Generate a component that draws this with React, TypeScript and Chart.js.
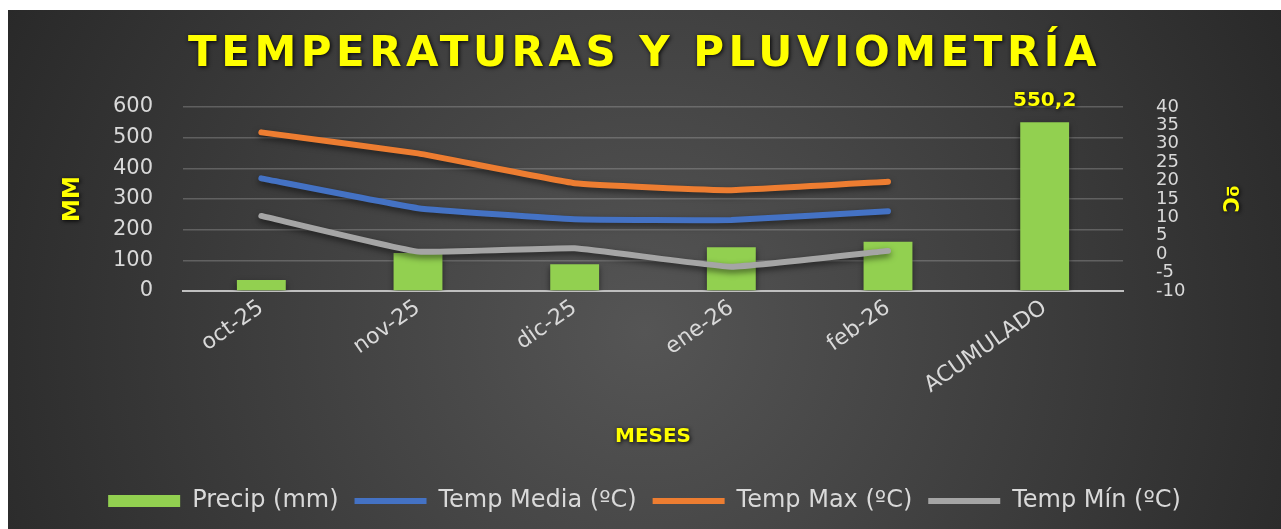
import { useEffect, useRef } from 'react';
import { Chart, registerables } from 'chart.js';

Chart.register(...registerables);

const categories = ['oct-25', 'nov-25', 'dic-25', 'ene-26', 'feb-26', 'ACUMULADO'];
const precipMm = [36, 124, 87, 142.5, 160.7, 550.2];
const tempMedia = [20.6, 12.5, 9.5, 9.3, 11.7, null];
const tempMax = [33.1, 27.4, 19.3, 17.4, 19.7, null];
const tempMin = [10.4, 0.7, 1.6, -3.4, 0.9, null];
const mmAxis = { min: 0, max: 600, step: 100 };
const cAxis = { min: -10, max: 40, step: 5 };
const labeledBarIndex = 5;

const FONT = 'DejaVu Sans';
const YELLOW = '#ffff00';
const TICK = '#d9d9d9';

const bgPlugin = {
  id: 'bgGradient',
  beforeDraw(chart: any) {
    const { ctx, width, height } = chart;
    const cx = width * 0.5;
    const cy = height * 0.62;
    const g = ctx.createRadialGradient(cx, cy, 0, cx, cy, width * 0.6);
    g.addColorStop(0, '#555555');
    g.addColorStop(1, '#262626');
    ctx.save();
    ctx.fillStyle = g;
    ctx.fillRect(0, 0, width, height);
    ctx.restore();
  },
};

const textShadowPlugin = {
  id: 'textShadow',
  beforeDraw(chart: any) {
    const wrap = (obj: any, key: string, spacing?: string) => {
      if (!obj || obj['__w_' + key]) return;
      const orig = obj[key];
      obj[key] = function (...args: any[]) {
        const ctx = chart.ctx;
        ctx.save();
        ctx.shadowColor = 'rgba(0,0,0,0.95)';
        ctx.shadowBlur = 4;
        ctx.shadowOffsetX = 1;
        ctx.shadowOffsetY = 1;
        if (spacing) (ctx as any).letterSpacing = spacing;
        const r = orig.apply(this, args);
        ctx.restore();
        return r;
      };
      obj['__w_' + key] = true;
    };
    wrap(chart.titleBlock, 'draw', '4.5px');
    Object.values(chart.scales).forEach((s: any) => wrap(s, 'drawTitle'));
  },
};

const markShadowPlugin = {
  id: 'markShadow',
  beforeDatasetDraw(chart: any) {
    const ctx = chart.ctx;
    ctx.save();
    ctx.shadowColor = 'rgba(0,0,0,0.55)';
    ctx.shadowBlur = 6;
    ctx.shadowOffsetX = 0;
    ctx.shadowOffsetY = 3;
  },
  afterDatasetDraw(chart: any) {
    chart.ctx.restore();
  },
};

const barLabelPlugin = {
  id: 'barLabel',
  afterDatasetsDraw(chart: any) {
    const meta = chart.getDatasetMeta(0);
    const el = meta.data[labeledBarIndex];
    if (!el) return;
    const ctx = chart.ctx;
    ctx.save();
    ctx.font = `bold 20px "${FONT}"`;
    ctx.fillStyle = YELLOW;
    ctx.textAlign = 'center';
    ctx.textBaseline = 'alphabetic';
    ctx.shadowColor = 'rgba(0,0,0,0.95)';
    ctx.shadowBlur = 4;
    ctx.shadowOffsetX = 1;
    ctx.shadowOffsetY = 1;
    ctx.fillText(String(precipMm[labeledBarIndex]).replace('.', ','), el.x, el.y - 16);
    ctx.restore();
  },
};

export default function App() {
  const ref = useRef<HTMLCanvasElement>(null);

  useEffect(() => {
    if (!ref.current) return;
    const lineCommon = {
      type: 'line' as const,
      yAxisID: 'y1',
      borderWidth: 6,
      pointRadius: 0,
      pointHoverRadius: 0,
      pointBorderWidth: 6,
      pointStyle: 'line',
      borderCapStyle: 'round' as const,
      borderJoinStyle: 'round' as const,
      tension: 0.1,
      spanGaps: false,
      order: 0,
    };
    const chart = new Chart(ref.current, {
      type: 'bar',
      data: {
        labels: categories,
        datasets: [
          {
            type: 'bar',
            label: 'Precip (mm)',
            data: precipMm,
            backgroundColor: '#92d050',
            borderWidth: 0,
            yAxisID: 'y',
            barPercentage: 0.39,
            categoryPercentage: 0.8,
            pointStyle: 'rect',
            order: 1,
          } as any,
          { ...lineCommon, label: 'Temp Media (ºC)', data: tempMedia, borderColor: '#4472c4', backgroundColor: '#4472c4' } as any,
          { ...lineCommon, label: 'Temp Max (ºC)', data: tempMax, borderColor: '#ed7d31', backgroundColor: '#ed7d31' } as any,
          { ...lineCommon, label: 'Temp Mín (ºC)', data: tempMin, borderColor: '#a5a5a5', backgroundColor: '#a5a5a5' } as any,
        ],
      },
      options: {
        responsive: true,
        maintainAspectRatio: false,
        animation: false,
        layout: { padding: { left: 0, right: 0, top: 0, bottom: 6 } },
        plugins: {
          title: {
            display: true,
            text: 'TEMPERATURAS Y PLUVIOMETRÍA',
            color: YELLOW,
            font: { family: FONT, size: 42, weight: 'bold', lineHeight: 1.2 },
            padding: { top: 20, bottom: 26.6 },
          },
          legend: {
            position: 'bottom',
            labels: {
              color: TICK,
              font: { family: FONT, size: 24 },
              usePointStyle: true,
              pointStyleWidth: 72,
              boxHeight: 12,
              padding: 16,
              sort: (a: any, b: any) => a.datasetIndex - b.datasetIndex,
            },
          },
          tooltip: { enabled: false },
        },
        scales: {
          x: {
            ticks: {
              color: TICK,
              font: { family: FONT, size: 22 },
              minRotation: 35,
              maxRotation: 35,
              padding: 4,
              autoSkip: false,
            },
            grid: { display: false, drawTicks: false },
            border: { display: true, color: '#bfbfbf', width: 2 },
            title: {
              display: true,
              text: 'MESES',
              color: YELLOW,
              font: { family: FONT, size: 20, weight: 'bold' },
              padding: { top: 0, bottom: 24 },
            },
            afterFit: (s: any) => {
              s.height = 182;
            },
          },
          y: {
            position: 'left',
            min: mmAxis.min,
            max: mmAxis.max,
            ticks: { stepSize: mmAxis.step, color: TICK, font: { family: FONT, size: 21 }, padding: 30 },
            grid: { color: 'rgba(200,200,200,0.28)', lineWidth: 1.5, drawTicks: false },
            border: { display: false },
            title: {
              display: true,
              text: 'MM',
              color: YELLOW,
              font: { family: FONT, size: 23, weight: 'bold' },
              padding: { top: 51, bottom: 0 },
            },
            afterFit: (s: any) => {
              s.width = 175;
            },
          },
          y1: {
            position: 'right',
            min: cAxis.min,
            max: cAxis.max,
            ticks: { stepSize: cAxis.step, autoSkip: false, color: TICK, font: { family: FONT, size: 18 }, padding: 33 },
            grid: { display: false, drawTicks: false },
            border: { display: false },
            title: {
              display: true,
              text: 'ºC',
              color: YELLOW,
              font: { family: FONT, size: 21, weight: 'bold' },
              padding: { top: 40.4, bottom: 0 },
            },
            afterFit: (s: any) => {
              s.width = 158;
            },
          },
        },
      } as any,
      plugins: [bgPlugin, textShadowPlugin, markShadowPlugin, barLabelPlugin],
    });
    return () => chart.destroy();
  }, []);

  return (
    <div style={{ position: 'absolute', left: 8, top: 10, width: 1273, height: 519 }}>
      <canvas ref={ref} />
    </div>
  );
}
